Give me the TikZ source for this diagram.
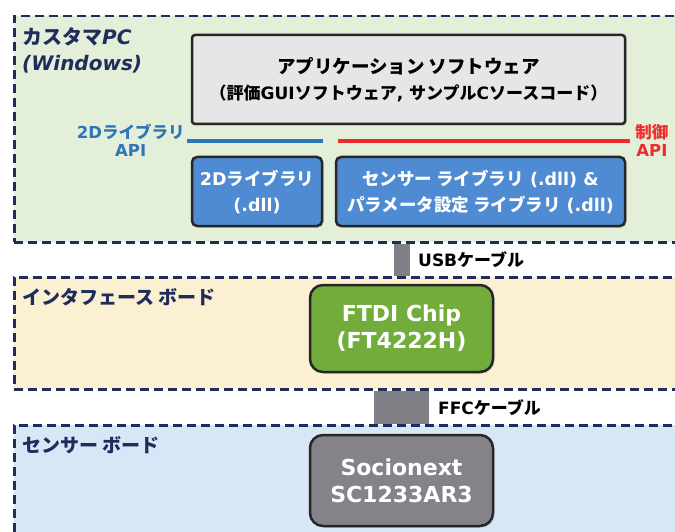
\documentclass[tikz,border=0pt]{standalone}
\usepackage{fontspec}
\setmainfont{DejaVu Sans}
\newfontfamily\jpfont{Noto Sans CJK JP}[AutoFakeSlant=0.2]
\newcommand{\jp}[1]{{\jpfont #1}}
\usepackage{tikz}
\usetikzlibrary{positioning,shadows,calc}
\definecolor{framenavy}{HTML}{1F2C5C}
\definecolor{pcfill}{HTML}{E4EFDA}
\definecolor{iffill}{HTML}{FBF1D2}
\definecolor{snfill}{HTML}{D7E7F6}
\definecolor{boxedge}{HTML}{262626}
\definecolor{appgray}{HTML}{E6E6E6}
\definecolor{libblue}{HTML}{4F8BD2}
\definecolor{chipgreen}{HTML}{72AD3C}
\definecolor{chipgray}{HTML}{838389}
\definecolor{cablegray}{HTML}{808086}
\definecolor{apiblue}{HTML}{2E75B6}
\definecolor{apired}{HTML}{EE2B2B}
\tikzstyle{boardframe} = [rectangle, draw=framenavy, line width=2.5pt, dash pattern=on 9pt off 5pt,
    anchor=north west, minimum width=700pt]
\tikzstyle{boardlabel} = [inner sep=0pt, anchor=west, align=left, text=framenavy,
    font=\fontsize{19}{26}\selectfont\bfseries]
\tikzstyle{swbox} = [rectangle, rounded corners=5pt, draw=boxedge, line width=2.5pt, align=center,
    drop shadow={shadow xshift=1.5pt, shadow yshift=-1.5pt, opacity=0.3}]
\tikzstyle{libbox} = [swbox, fill=libblue, text=white, minimum height=69pt,
    font=\fontsize{17.5}{26}\selectfont\bfseries]
\tikzstyle{chip} = [swbox, rounded corners=13pt, text=white, minimum width=183pt,
    font=\fontsize{22}{27}\selectfont\bfseries]
\tikzstyle{apiline} = [line width=4pt]
\tikzstyle{apilabel} = [inner sep=0pt, align=center, font=\fontsize{16.5}{18}\selectfont\bfseries]
\tikzstyle{cableline} = [draw=cablegray]
\tikzstyle{cablelabel} = [inner sep=0pt, anchor=west, font=\fontsize{17}{20}\selectfont\bfseries]

\begin{document}
\begin{tikzpicture}[x=1pt, y=-1pt]
\useasboundingbox (0,0) rectangle (675,532);
\clip (0,0) rectangle (675,532);
\fill [white] (0,0) rectangle (675,532);

% boards
\node (pc) [boardframe, fill=pcfill, minimum height=226pt] at (13,15) {};
\node (ifb) [boardframe, fill=iffill, minimum height=112pt] at (13,276) {};
\node (snb) [boardframe, fill=snfill, minimum height=140pt] at (13,424) {};

\node (pctitle) [boardlabel, font=\fontsize{20}{26}\selectfont\bfseries\itshape] at (22,50) {
    \jp{カスタマ}PC \\
    (Windows)
};
\node (iftitle) [boardlabel] at (22,297) {\jp{インタフェース ボード}};
\node (sntitle) [boardlabel] at (22,445) {\jp{センサー ボード}};

% software on the PC
\node (app) [swbox, fill=appgray, rounded corners=3pt, minimum width=433pt, minimum height=89pt,
    font=\fontsize{18.5}{26}\selectfont\bfseries] at (408.5,79.5) {
    \jp{アプリケーション ソフトウェア} \\
    {\fontsize{17}{26}\selectfont\jp{（評価}GUI\jp{ソフトウェア}, \jp{サンプル}C\jp{ソースコード）}}
};

\node (lib2d) [libbox, minimum width=130pt, below right=30.5pt and 0pt of app.south west] {
    2D\jp{ライブラリ} \\
    (.dll)
};

\node (senslib) [libbox, minimum width=289pt, right=11.5pt of lib2d] {
    \jp{センサー ライブラリ} (.dll) \& \\
    \jp{パラメータ設定 ライブラリ} (.dll)
};

% API lines
\coordinate (blueA) at ($(lib2d.north west)+(-4,-15)$);
\coordinate (blueB) at ($(lib2d.north east)+(0,-15)$);
\coordinate (redA) at ($(senslib.north west)+(3,-15)$);
\coordinate (redB) at ($(senslib.north east)+(4,-15)$);
\draw [apiline, draw=apiblue] (blueA) -- (blueB);
\draw [apiline, draw=apired] (redA) -- (redB);
\node (api2d) [apilabel, text=apiblue, left=2pt of blueA] {2D\jp{ライブラリ}\\API};
\node (apictl) [apilabel, text=apired, right=5pt of redB] {\jp{制御}\\API};

% chips
\node (ftdi) [chip, fill=chipgreen, minimum height=87pt] at (401.5,328.5) {
    FTDI Chip \\
    (FT4222H)
};
\node (socio) [chip, fill=chipgray, minimum height=91pt, below=60.5pt of ftdi] {
    Socionext \\
    SC1233AR3
};

% cables
\coordinate (usbtop) at (pc.south -| ftdi.north);
\coordinate (usbbot) at (ifb.north -| ftdi.north);
\coordinate (ffctop) at (ifb.south -| ftdi.north);
\coordinate (ffcbot) at (snb.north -| ftdi.north);
\draw [cableline, line width=16pt] (usbtop) -- (usbbot);
\draw [cableline, line width=55pt] (ffctop) -- (ffcbot);
\coordinate (usbmid) at ($(usbtop)!0.5!(usbbot)$);
\coordinate (ffcmid) at ($(ffctop)!0.5!(ffcbot)$);
\node (usblbl) [cablelabel, right=16.5pt of usbmid] {USB\jp{ケーブル}};
\node (ffclbl) [cablelabel, right=36.5pt of ffcmid] {FFC\jp{ケーブル}};
\end{tikzpicture}
\end{document}
